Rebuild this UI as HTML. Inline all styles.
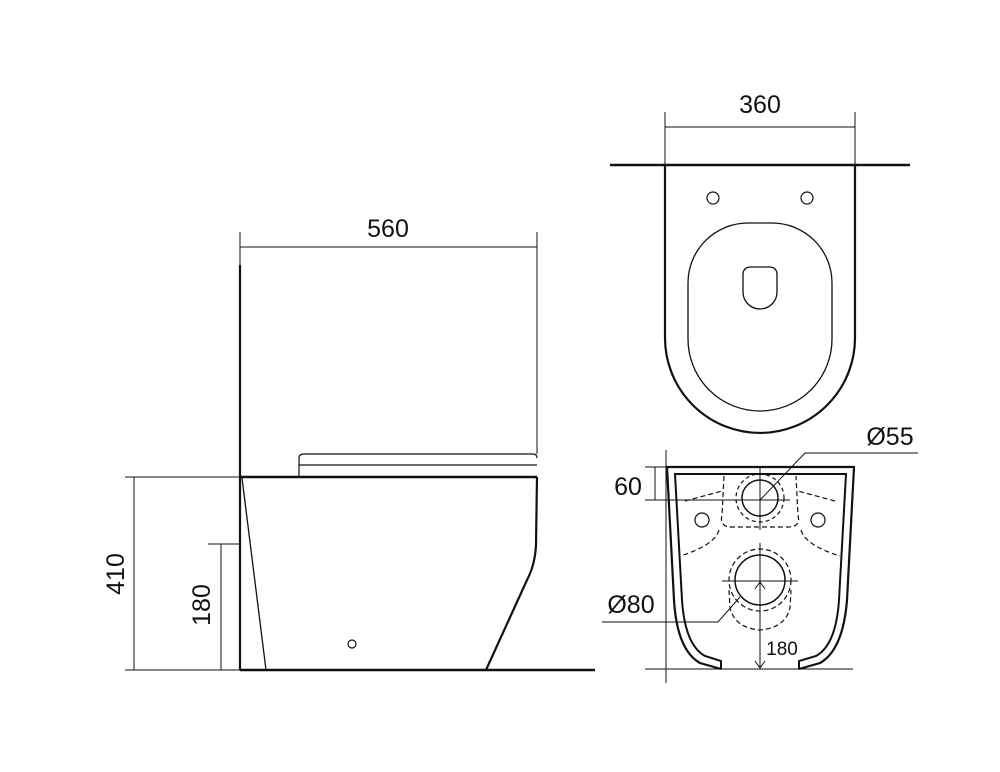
<!DOCTYPE html>
<html><head><style>html,body{margin:0;padding:0;background:#fff}svg{display:block}text{font-family:"Liberation Sans",sans-serif;fill:#111}</style></head><body>
<svg width="1000" height="772" viewBox="0 0 1000 772" xmlns="http://www.w3.org/2000/svg">
<g fill="none" stroke="#111">
<!-- TOP VIEW -->
<line x1="610" y1="165" x2="910" y2="165" stroke-width="2.5"/>
<line x1="665" y1="112" x2="665" y2="165" stroke-width="1"/>
<line x1="855" y1="112" x2="855" y2="165" stroke-width="1"/>
<line x1="665" y1="127" x2="855" y2="127" stroke-width="1"/>
<path d="M665,165 L665,338 A95,95 0 0 0 855,338 L855,165" stroke-width="2.2"/>
<circle cx="713" cy="198" r="6" stroke-width="1.2"/>
<circle cx="807" cy="198" r="6" stroke-width="1.2"/>
<path d="M688,283 A60,60 0 0 1 748,223 L772,223 A60,60 0 0 1 832,283 L832,339 A72,72 0 0 1 688,339 Z" stroke-width="1.3"/>
<path d="M743,275 Q743,267 751,267 L769,267 Q777,267 777,275 L777,292 A17,17 0 0 1 743,292 Z" stroke-width="1.3"/>

<!-- SIDE VIEW -->
<line x1="240" y1="232" x2="240" y2="265" stroke-width="1"/>
<line x1="537" y1="232" x2="537" y2="454" stroke-width="1"/>
<line x1="240" y1="247" x2="537" y2="247" stroke-width="1"/>
<line x1="240" y1="265" x2="240" y2="670" stroke-width="2.2"/>
<path d="M299,477 L299,458 Q299,454 304,454 L533,454 Q537,454 537,458" stroke-width="1.2"/>
<line x1="299" y1="465" x2="537" y2="465" stroke-width="1.2"/>
<line x1="240" y1="477" x2="537" y2="477" stroke-width="2.5"/>
<path d="M537,477 L536,545 Q535,565 527,580 L486,670" stroke-width="2.2"/>
<line x1="242" y1="478" x2="266" y2="670" stroke-width="1.3"/>
<line x1="240" y1="670" x2="595" y2="670" stroke-width="2.5"/>
<circle cx="352" cy="644" r="4" stroke-width="1.2"/>
<line x1="125" y1="477" x2="240" y2="477" stroke-width="1"/>
<line x1="125" y1="670" x2="240" y2="670" stroke-width="1"/>
<line x1="134" y1="477" x2="134" y2="670" stroke-width="1"/>
<line x1="208" y1="544" x2="240" y2="544" stroke-width="1"/>
<line x1="221" y1="544" x2="221" y2="670" stroke-width="1"/>

<!-- FRONT VIEW -->
<path d="M721,669 L700,663 Q677,650 674,600 L667,467 L854,467 L847,600 Q843,650 820,663 L799,669" stroke-width="2.2"/>
<path d="M721,669 L721,661 L705,656 Q685,645 682,600 L675,474 L846,474 L839,600 Q836,645 816,656 L799,661 L799,669" stroke-width="2"/>
<line x1="645" y1="669" x2="853" y2="669" stroke-width="1"/>
<line x1="666" y1="450" x2="666" y2="683" stroke-width="1"/>
<line x1="645" y1="467" x2="667" y2="467" stroke-width="1"/>
<line x1="655" y1="467" x2="655" y2="500" stroke-width="1"/>
<line x1="645" y1="500" x2="790" y2="500" stroke-width="1"/>
<line x1="760" y1="467" x2="760" y2="530" stroke-width="1"/>
<circle cx="760" cy="498" r="18" stroke-width="1.5"/>
<circle cx="760" cy="498" r="24" stroke-width="1.2" stroke-dasharray="4,3"/>
<polyline points="760,500 805,453 918,453" stroke-width="1"/>
<circle cx="702" cy="520" r="7" stroke-width="1.2"/>
<circle cx="818" cy="520" r="7" stroke-width="1.2"/>
<g stroke-width="1.2" stroke-dasharray="5,3">
<path d="M724,476 L722,515 Q719,527 732,527 L788,527 Q801,527 798,515 L796,476"/>
<line x1="685" y1="501" x2="722" y2="491"/>
<line x1="835" y1="501" x2="798" y2="491"/>
<path d="M719,530 Q715,545 680,556"/>
<path d="M801,530 Q805,545 840,556"/>
<path d="M729,590 L730,608 Q735,628 760,630 Q785,628 790,608 L791,590"/>
</g>
<circle cx="760" cy="580" r="25" stroke-width="1.5"/>
<circle cx="760" cy="580" r="31" stroke-width="1.2" stroke-dasharray="5,3"/>
<line x1="722" y1="581" x2="798" y2="581" stroke-width="1"/>
<line x1="760" y1="543" x2="760" y2="669" stroke-width="1"/>
<polyline points="755,589 760,582 765,589" stroke-width="1"/>
<polyline points="755,661 760,668 765,661" stroke-width="1"/>
<polyline points="740,597 718,622 602,622" stroke-width="1"/>
</g>
<text x="760" y="113" font-size="25" text-anchor="middle">360</text>
<text x="388" y="237" font-size="25" text-anchor="middle">560</text>
<text transform="translate(124,574) rotate(-90)" font-size="25" text-anchor="middle">410</text>
<text transform="translate(210,605) rotate(-90)" font-size="25" text-anchor="middle">180</text>
<text x="628" y="495" font-size="25" text-anchor="middle">60</text>
<text x="890" y="445" font-size="25" text-anchor="middle">Ø55</text>
<text x="631" y="613" font-size="25" text-anchor="middle">Ø80</text>
<text x="782" y="655" font-size="19" text-anchor="middle">180</text>
</svg>
</body></html>
